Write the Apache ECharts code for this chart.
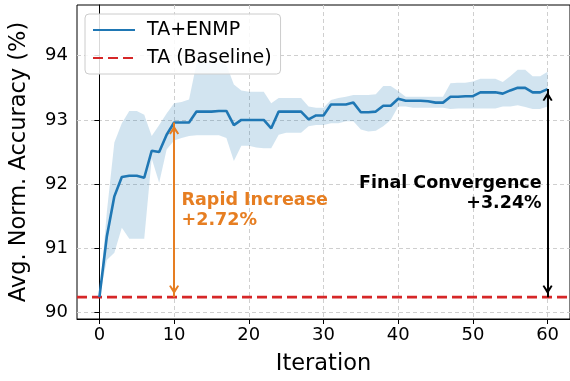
<!DOCTYPE html>
<html>
<head>
<meta charset="utf-8">
<script src="https://cdn.jsdelivr.net/npm/echarts@6/dist/echarts.min.js"></script>
<style>html,body{margin:0;padding:0;background:#fff}#c{width:570px;height:381px}</style>
</head>
<body>
<div id="c"></div>
<script>
const iterations = [0,1,2,3,4,5,6,7,8,9,10,11,12,13,14,15,16,17,18,19,20,21,22,23,24,25,26,27,28,29,30,31,32,33,34,35,36,37,38,39,40,41,42,43,44,45,46,47,48,49,50,51,52,53,54,55,56,57,58,59,60];
const accuracy = [90.24,91.19,91.81,92.11,92.13,92.13,92.10,92.52,92.50,92.77,92.96,92.96,92.96,93.13,93.13,93.13,93.14,93.14,92.92,93.00,93.00,93.00,93.00,92.87,93.13,93.13,93.13,93.13,93.01,93.07,93.07,93.24,93.24,93.24,93.27,93.12,93.12,93.13,93.22,93.22,93.33,93.30,93.30,93.30,93.29,93.27,93.27,93.36,93.36,93.37,93.37,93.43,93.43,93.43,93.41,93.46,93.50,93.50,93.43,93.43,93.48];
const upperBand = [90.24,91.57,92.65,92.95,93.14,93.14,93.08,92.75,92.92,93.10,93.26,93.28,93.32,93.88,93.90,93.90,93.90,93.86,93.55,93.46,93.44,93.44,93.44,93.26,93.34,93.34,93.34,93.34,93.21,93.19,93.19,93.31,93.34,93.36,93.39,93.39,93.39,93.40,93.53,93.53,93.45,93.36,93.36,93.36,93.36,93.36,93.36,93.57,93.58,93.58,93.60,93.64,93.64,93.64,93.59,93.68,93.78,93.78,93.68,93.68,93.75];
const lowerBand = [90.24,90.82,90.93,91.32,91.15,91.15,91.15,92.40,92.02,92.54,92.68,92.72,92.75,92.76,92.76,92.76,92.76,92.72,92.36,92.60,92.60,92.57,92.56,92.56,92.77,92.80,92.80,92.80,92.90,92.92,92.92,92.95,92.95,92.98,92.98,92.85,92.82,92.83,92.90,93.00,93.21,93.21,93.19,93.19,93.19,93.19,93.19,93.17,93.18,93.18,93.18,93.18,93.18,93.18,93.21,93.21,93.23,93.20,93.17,93.17,93.21];
const baseline = 90.24;
const xTicks = [0,10,20,30,40,50,60];
const yTicks = [90,91,92,93,94];
const seriesNames = ['TA+ENMP','TA (Baseline)'];
const rapidIter = 10, rapidText = ['Rapid Increase','+2.72%'];
const finalIter = 60, finalText = ['Final Convergence','+3.24%'];
const rapidTextPos = [11, 91.59];
const finalTextPos = [59.2, 91.85];
const xRange = [-3, 63];
const yRange = [89.9, 94.79];

const FONT = 'DejaVu Sans';
const chart = echarts.init(document.getElementById('c'), null, {renderer:'canvas'});
const pairs = (ys) => iterations.map((x,i)=>[x, ys[i]]);
const arrowPath = 'path://M5,0 L10,9 L8.4,10 L5,4.6 L1.6,10 L0,9 Z';

const option = {
  animation:false,
  backgroundColor:'#fff',
  grid:{left:74.5, right:-5, top:5, bottom:62, show:true, borderColor:'#000', borderWidth:1, backgroundColor:'transparent'},
  xAxis:{
    type:'value', min:xRange[0], max:xRange[1],
    name:'Iteration', nameLocation:'middle', nameGap:34,
    nameTextStyle:{fontFamily:FONT, fontSize:22.5, color:'#000'},
    axisLine:{show:true, lineStyle:{color:'#000', width:1}},
    axisTick:{show:true, length:5, lineStyle:{color:'#000'}, customValues:xTicks},
    axisLabel:{fontFamily:FONT, fontSize:18, color:'#000', margin:7, customValues:xTicks},
    splitLine:{show:true, lineStyle:{color:'#cfcfcf', type:[4,3], width:1}}
  },
  yAxis:{
    type:'value', min:yRange[0], max:yRange[1],
    name:'Avg. Norm. Accuracy (%)', nameLocation:'middle', nameGap:46,
    nameTextStyle:{fontFamily:FONT, fontSize:22.5, color:'#000'},
    axisLine:{show:true, lineStyle:{color:'#000', width:1}},
    axisTick:{show:true, length:5, lineStyle:{color:'#000'}, customValues:yTicks},
    axisLabel:{fontFamily:FONT, fontSize:18, color:'#000', margin:9, customValues:yTicks},
    splitLine:{show:true, lineStyle:{color:'#cfcfcf', type:[4,3], width:1}}
  },
  legend:{
    show:true, orient:'vertical', left:85, top:14,
    data:seriesNames,
    padding:[6,9,6,7], itemGap:8, itemWidth:42, itemHeight:14,
    borderColor:'#cccccc', borderWidth:1, borderRadius:4,
    backgroundColor:'rgba(255,255,255,0.85)',
    itemStyle:{opacity:0},
    formatter:(name)=>'{s|}' + name,
    textStyle:{fontFamily:FONT, fontSize:19, color:'#000', lineHeight:20,
      rich:{s:{width:7}}}
  },
  series:[
    {type:'custom', name:'band', silent:true, z:1,
     data:pairs(accuracy),
     encode:{x:0, y:1},
     renderItem:(params, api)=>{
       if (params.dataIndex !== 0) return null;
       const up = iterations.map((x,i)=>api.coord([x, upperBand[i]]));
       const lo = iterations.map((x,i)=>api.coord([x, lowerBand[i]])).reverse();
       return {type:'polygon', shape:{points:up.concat(lo)}, style:{fill:'rgba(31,119,180,0.2)'}};
     }},
    {type:'line', name:seriesNames[1], data:[[xRange[0], baseline],[xRange[1], baseline]], symbol:'none',
     lineStyle:{color:'#d62728', width:2.6, type:[10,5]}, itemStyle:{color:'#d62728'}, z:2},
    {type:'line', name:seriesNames[0], data:pairs(accuracy), symbol:'none',
     lineStyle:{color:'#1f77b4', width:2.6}, itemStyle:{color:'#1f77b4'}, z:3},
    {type:'line', name:'annot', data:[], silent:true, z:4,
     markLine:{
       silent:true, animation:false,
       symbol:[arrowPath, arrowPath], symbolSize:[10,9], symbolOffset:[[0,7.5],[0,7.5]],
       label:{show:false},
       data:[
         [{coord:[rapidIter, accuracy[iterations.indexOf(rapidIter)]], lineStyle:{color:'#e67e22', width:2, type:'solid'}, itemStyle:{color:'#e67e22'}},
          {coord:[rapidIter, baseline]}],
         [{coord:[finalIter, accuracy[iterations.indexOf(finalIter)]], lineStyle:{color:'#000', width:2, type:'solid'}, itemStyle:{color:'#000'}},
          {coord:[finalIter, baseline]}]
       ]
     },
     markPoint:{
       silent:true, animation:false, symbol:'circle', symbolSize:0,
       data:[
         {coord:rapidTextPos, label:{show:true, position:'inside', align:'left', verticalAlign:'middle',
           formatter:rapidText.join('\n'), fontFamily:FONT, fontWeight:'bold', fontSize:17.5, lineHeight:19.5, color:'#e67e22'}},
         {coord:finalTextPos, label:{show:true, position:'inside', align:'right', verticalAlign:'middle',
           formatter:finalText.join('\n'), fontFamily:FONT, fontWeight:'bold', fontSize:17.5, lineHeight:20, color:'#000'}}
       ]
     }
    }
  ]
};
chart.setOption(option);
</script>
</body>
</html>
